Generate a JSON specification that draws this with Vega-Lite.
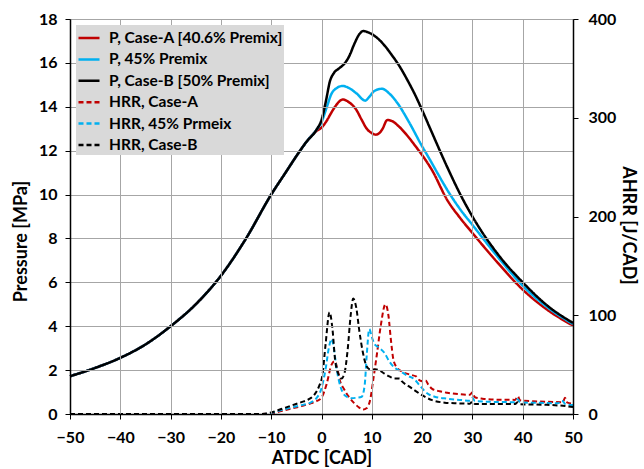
{
  "$schema": "https://vega.github.io/schema/vega-lite/v6.json",
  "width": 503,
  "height": 395,
  "autosize": "none",
  "padding": {"left": 70, "top": 19, "right": 71, "bottom": 55},
  "background": "white",
  "config": {
    "font": "Lato",
    "view": {"stroke": "#808080", "strokeWidth": 1},
    "axis": {
      "labelFont": "Lato", "labelFontWeight": "bold", "labelFontSize": 16, "labelColor": "#000000", "labelFlush": false,
      "titleFont": "Lato", "titleFontWeight": "bold", "titleFontSize": 18, "titleColor": "#000000",
      "domainColor": "#000000", "domainWidth": 1.5, "tickColor": "#000000", "tickSize": 5, "tickWidth": 1,
      "grid": true, "gridColor": "#a6a6a6", "gridWidth": 1, "gridOpacity": 1
    },
    "axisRight": {"grid": false},
    "legend": {
      "orient": "none", "legendX": 6, "legendY": 6, "title": null, "zindex": 2,
      "fillColor": "#d9d9d9", "padding": 1, "rowPadding": 0.4,
      "labelFont": "Lato", "labelFontWeight": "bold", "labelFontSize": 15.5, "labelColor": "#000000",
      "labelOffset": 8, "labelLimit": 400,
      "symbolType": "stroke", "symbolSize": 441, "symbolStrokeWidth": 2.5
    }
  },
  "data": {"values": [
    {"s":"P, Case-A [40.6% Premix]","x":-50,"v":1.72},{"s":"P, Case-A [40.6% Premix]","x":-45,"v":2.1},{"s":"P, Case-A [40.6% Premix]","x":-40,"v":2.56},{"s":"P, Case-A [40.6% Premix]","x":-35,"v":3.17},{"s":"P, Case-A [40.6% Premix]","x":-30,"v":4.0},{"s":"P, Case-A [40.6% Premix]","x":-25,"v":5.0},{"s":"P, Case-A [40.6% Premix]","x":-20,"v":6.3},{"s":"P, Case-A [40.6% Premix]","x":-15,"v":8.0},{"s":"P, Case-A [40.6% Premix]","x":-10,"v":10.0},{"s":"P, Case-A [40.6% Premix]","x":-7,"v":11.05},{"s":"P, Case-A [40.6% Premix]","x":-5,"v":11.75},{"s":"P, Case-A [40.6% Premix]","x":-3,"v":12.4},{"s":"P, Case-A [40.6% Premix]","x":-1,"v":12.9},{"s":"P, Case-A [40.6% Premix]","x":0,"v":13.05},{"s":"P, Case-A [40.6% Premix]","x":1,"v":13.35},{"s":"P, Case-A [40.6% Premix]","x":2,"v":13.75},{"s":"P, Case-A [40.6% Premix]","x":3,"v":14.1},{"s":"P, Case-A [40.6% Premix]","x":4.2,"v":14.33},{"s":"P, Case-A [40.6% Premix]","x":5.5,"v":14.2},{"s":"P, Case-A [40.6% Premix]","x":6.9,"v":13.87},{"s":"P, Case-A [40.6% Premix]","x":8,"v":13.4},{"s":"P, Case-A [40.6% Premix]","x":9,"v":13.0},{"s":"P, Case-A [40.6% Premix]","x":10,"v":12.8},{"s":"P, Case-A [40.6% Premix]","x":10.8,"v":12.73},{"s":"P, Case-A [40.6% Premix]","x":11.5,"v":12.8},{"s":"P, Case-A [40.6% Premix]","x":12.1,"v":12.98},{"s":"P, Case-A [40.6% Premix]","x":13.1,"v":13.4},{"s":"P, Case-A [40.6% Premix]","x":14,"v":13.35},{"s":"P, Case-A [40.6% Premix]","x":15.4,"v":13.1},{"s":"P, Case-A [40.6% Premix]","x":17,"v":12.7},{"s":"P, Case-A [40.6% Premix]","x":18.7,"v":12.2},{"s":"P, Case-A [40.6% Premix]","x":20,"v":11.8},{"s":"P, Case-A [40.6% Premix]","x":22,"v":11.1},{"s":"P, Case-A [40.6% Premix]","x":25,"v":9.75},{"s":"P, Case-A [40.6% Premix]","x":27.5,"v":8.95},{"s":"P, Case-A [40.6% Premix]","x":30,"v":8.25},{"s":"P, Case-A [40.6% Premix]","x":35,"v":6.9},{"s":"P, Case-A [40.6% Premix]","x":40,"v":5.67},{"s":"P, Case-A [40.6% Premix]","x":45,"v":4.73},{"s":"P, Case-A [40.6% Premix]","x":50,"v":4.03},

    {"s":"P, 45% Premix","x":-50,"v":1.72},{"s":"P, 45% Premix","x":-45,"v":2.1},{"s":"P, 45% Premix","x":-40,"v":2.56},{"s":"P, 45% Premix","x":-35,"v":3.17},{"s":"P, 45% Premix","x":-30,"v":4.0},{"s":"P, 45% Premix","x":-25,"v":5.0},{"s":"P, 45% Premix","x":-20,"v":6.3},{"s":"P, 45% Premix","x":-15,"v":8.0},{"s":"P, 45% Premix","x":-10,"v":10.0},{"s":"P, 45% Premix","x":-7,"v":11.05},{"s":"P, 45% Premix","x":-5,"v":11.75},{"s":"P, 45% Premix","x":-3,"v":12.4},{"s":"P, 45% Premix","x":-1,"v":12.95},{"s":"P, 45% Premix","x":0,"v":13.3},{"s":"P, 45% Premix","x":1,"v":13.95},{"s":"P, 45% Premix","x":2,"v":14.6},{"s":"P, 45% Premix","x":3,"v":14.85},{"s":"P, 45% Premix","x":4.2,"v":14.95},{"s":"P, 45% Premix","x":5.5,"v":14.85},{"s":"P, 45% Premix","x":7,"v":14.6},{"s":"P, 45% Premix","x":8.7,"v":14.28},{"s":"P, 45% Premix","x":9.5,"v":14.45},{"s":"P, 45% Premix","x":10.5,"v":14.72},{"s":"P, 45% Premix","x":12,"v":14.82},{"s":"P, 45% Premix","x":13.5,"v":14.6},{"s":"P, 45% Premix","x":15,"v":14.2},{"s":"P, 45% Premix","x":17.4,"v":13.3},{"s":"P, 45% Premix","x":20,"v":12.2},{"s":"P, 45% Premix","x":21.4,"v":11.65},{"s":"P, 45% Premix","x":23,"v":11.0},{"s":"P, 45% Premix","x":25.3,"v":10.1},{"s":"P, 45% Premix","x":27.5,"v":9.35},{"s":"P, 45% Premix","x":30,"v":8.62},{"s":"P, 45% Premix","x":35,"v":7.17},{"s":"P, 45% Premix","x":40,"v":5.85},{"s":"P, 45% Premix","x":45,"v":4.85},{"s":"P, 45% Premix","x":50,"v":4.1},

    {"s":"P, Case-B [50% Premix]","x":-50,"v":1.72},{"s":"P, Case-B [50% Premix]","x":-45,"v":2.1},{"s":"P, Case-B [50% Premix]","x":-40,"v":2.56},{"s":"P, Case-B [50% Premix]","x":-35,"v":3.17},{"s":"P, Case-B [50% Premix]","x":-30,"v":4.0},{"s":"P, Case-B [50% Premix]","x":-25,"v":5.0},{"s":"P, Case-B [50% Premix]","x":-20,"v":6.3},{"s":"P, Case-B [50% Premix]","x":-15,"v":8.0},{"s":"P, Case-B [50% Premix]","x":-10,"v":10.0},{"s":"P, Case-B [50% Premix]","x":-7,"v":11.05},{"s":"P, Case-B [50% Premix]","x":-5,"v":11.75},{"s":"P, Case-B [50% Premix]","x":-3,"v":12.4},{"s":"P, Case-B [50% Premix]","x":-1,"v":12.95},{"s":"P, Case-B [50% Premix]","x":0,"v":13.4},{"s":"P, Case-B [50% Premix]","x":1,"v":14.4},{"s":"P, Case-B [50% Premix]","x":1.6,"v":15.1},{"s":"P, Case-B [50% Premix]","x":2.5,"v":15.55},{"s":"P, Case-B [50% Premix]","x":3.5,"v":15.75},{"s":"P, Case-B [50% Premix]","x":4.5,"v":15.95},{"s":"P, Case-B [50% Premix]","x":5.5,"v":16.3},{"s":"P, Case-B [50% Premix]","x":6.5,"v":16.85},{"s":"P, Case-B [50% Premix]","x":7.5,"v":17.3},{"s":"P, Case-B [50% Premix]","x":8.3,"v":17.45},{"s":"P, Case-B [50% Premix]","x":9.5,"v":17.37},{"s":"P, Case-B [50% Premix]","x":11,"v":17.15},{"s":"P, Case-B [50% Premix]","x":12.5,"v":16.8},{"s":"P, Case-B [50% Premix]","x":14,"v":16.35},{"s":"P, Case-B [50% Premix]","x":15.5,"v":15.85},{"s":"P, Case-B [50% Premix]","x":17,"v":15.25},{"s":"P, Case-B [50% Premix]","x":18.7,"v":14.5},{"s":"P, Case-B [50% Premix]","x":20,"v":13.85},{"s":"P, Case-B [50% Premix]","x":22,"v":12.8},{"s":"P, Case-B [50% Premix]","x":25,"v":11.25},{"s":"P, Case-B [50% Premix]","x":27.5,"v":10.05},{"s":"P, Case-B [50% Premix]","x":30,"v":9.0},{"s":"P, Case-B [50% Premix]","x":35,"v":7.3},{"s":"P, Case-B [50% Premix]","x":40,"v":6.0},{"s":"P, Case-B [50% Premix]","x":45,"v":4.92},{"s":"P, Case-B [50% Premix]","x":50,"v":4.15},

    {"s":"HRR, Case-A","x":-50,"v":0},{"s":"HRR, Case-A","x":-12,"v":0},{"s":"HRR, Case-A","x":-10,"v":0.5},{"s":"HRR, Case-A","x":-8,"v":3},{"s":"HRR, Case-A","x":-6,"v":5.5},{"s":"HRR, Case-A","x":-4,"v":8},{"s":"HRR, Case-A","x":-2,"v":11},{"s":"HRR, Case-A","x":-1,"v":13},{"s":"HRR, Case-A","x":0,"v":16.5},{"s":"HRR, Case-A","x":1,"v":30},{"s":"HRR, Case-A","x":2,"v":50},{"s":"HRR, Case-A","x":2.6,"v":53.5},{"s":"HRR, Case-A","x":3.2,"v":45},{"s":"HRR, Case-A","x":3.6,"v":35},{"s":"HRR, Case-A","x":4.5,"v":25},{"s":"HRR, Case-A","x":5.5,"v":17},{"s":"HRR, Case-A","x":6.5,"v":11},{"s":"HRR, Case-A","x":7.5,"v":6.5},{"s":"HRR, Case-A","x":8.3,"v":4.5},{"s":"HRR, Case-A","x":9,"v":6},{"s":"HRR, Case-A","x":9.7,"v":15},{"s":"HRR, Case-A","x":10.3,"v":35},{"s":"HRR, Case-A","x":11,"v":60},{"s":"HRR, Case-A","x":11.8,"v":90},{"s":"HRR, Case-A","x":12.7,"v":111},{"s":"HRR, Case-A","x":13.3,"v":100},{"s":"HRR, Case-A","x":13.8,"v":75},{"s":"HRR, Case-A","x":14.3,"v":55},{"s":"HRR, Case-A","x":15,"v":47},{"s":"HRR, Case-A","x":16,"v":43},{"s":"HRR, Case-A","x":17.5,"v":40},{"s":"HRR, Case-A","x":18.8,"v":38},{"s":"HRR, Case-A","x":19.5,"v":34},{"s":"HRR, Case-A","x":20.3,"v":33},{"s":"HRR, Case-A","x":20.7,"v":34},{"s":"HRR, Case-A","x":21.2,"v":30},{"s":"HRR, Case-A","x":22,"v":25.5},{"s":"HRR, Case-A","x":23.5,"v":23},{"s":"HRR, Case-A","x":25,"v":21.5},{"s":"HRR, Case-A","x":27.5,"v":20},{"s":"HRR, Case-A","x":29.5,"v":19.5},{"s":"HRR, Case-A","x":30,"v":22},{"s":"HRR, Case-A","x":30.5,"v":17},{"s":"HRR, Case-A","x":32,"v":15.5},{"s":"HRR, Case-A","x":35,"v":14.5},{"s":"HRR, Case-A","x":38.5,"v":14.3},{"s":"HRR, Case-A","x":39,"v":18},{"s":"HRR, Case-A","x":39.5,"v":13.8},{"s":"HRR, Case-A","x":42,"v":13},{"s":"HRR, Case-A","x":45,"v":12.3},{"s":"HRR, Case-A","x":48,"v":12},{"s":"HRR, Case-A","x":48.4,"v":16.5},{"s":"HRR, Case-A","x":48.9,"v":11.5},{"s":"HRR, Case-A","x":50,"v":10.5},

    {"s":"HRR, 45% Prmeix","x":-50,"v":0},{"s":"HRR, 45% Prmeix","x":-12,"v":0},{"s":"HRR, 45% Prmeix","x":-10,"v":1},{"s":"HRR, 45% Prmeix","x":-8,"v":4},{"s":"HRR, 45% Prmeix","x":-6,"v":6.5},{"s":"HRR, 45% Prmeix","x":-4,"v":9},{"s":"HRR, 45% Prmeix","x":-2,"v":12},{"s":"HRR, 45% Prmeix","x":-1,"v":16},{"s":"HRR, 45% Prmeix","x":0,"v":26},{"s":"HRR, 45% Prmeix","x":0.8,"v":45},{"s":"HRR, 45% Prmeix","x":1.5,"v":68},{"s":"HRR, 45% Prmeix","x":2,"v":76},{"s":"HRR, 45% Prmeix","x":2.5,"v":65},{"s":"HRR, 45% Prmeix","x":3,"v":46},{"s":"HRR, 45% Prmeix","x":3.5,"v":33},{"s":"HRR, 45% Prmeix","x":4.2,"v":22},{"s":"HRR, 45% Prmeix","x":5,"v":17.5},{"s":"HRR, 45% Prmeix","x":6,"v":16},{"s":"HRR, 45% Prmeix","x":7,"v":16.5},{"s":"HRR, 45% Prmeix","x":8,"v":17.5},{"s":"HRR, 45% Prmeix","x":8.6,"v":30},{"s":"HRR, 45% Prmeix","x":9,"v":60},{"s":"HRR, 45% Prmeix","x":9.5,"v":86},{"s":"HRR, 45% Prmeix","x":10,"v":78},{"s":"HRR, 45% Prmeix","x":10.5,"v":71},{"s":"HRR, 45% Prmeix","x":11.5,"v":67},{"s":"HRR, 45% Prmeix","x":12.5,"v":62},{"s":"HRR, 45% Prmeix","x":13.5,"v":53},{"s":"HRR, 45% Prmeix","x":14.5,"v":47},{"s":"HRR, 45% Prmeix","x":15.5,"v":44},{"s":"HRR, 45% Prmeix","x":17,"v":39},{"s":"HRR, 45% Prmeix","x":18.5,"v":35},{"s":"HRR, 45% Prmeix","x":19.5,"v":29},{"s":"HRR, 45% Prmeix","x":21,"v":21},{"s":"HRR, 45% Prmeix","x":22.5,"v":17.5},{"s":"HRR, 45% Prmeix","x":25,"v":15.5},{"s":"HRR, 45% Prmeix","x":27.5,"v":14.3},{"s":"HRR, 45% Prmeix","x":29.5,"v":13.5},{"s":"HRR, 45% Prmeix","x":30,"v":16.5},{"s":"HRR, 45% Prmeix","x":30.5,"v":13},{"s":"HRR, 45% Prmeix","x":34,"v":12.3},{"s":"HRR, 45% Prmeix","x":38.5,"v":12},{"s":"HRR, 45% Prmeix","x":39,"v":15},{"s":"HRR, 45% Prmeix","x":39.5,"v":11.8},{"s":"HRR, 45% Prmeix","x":43,"v":11.3},{"s":"HRR, 45% Prmeix","x":47,"v":10.8},{"s":"HRR, 45% Prmeix","x":47.8,"v":13.5},{"s":"HRR, 45% Prmeix","x":48.5,"v":10},{"s":"HRR, 45% Prmeix","x":50,"v":9},

    {"s":"HRR, Case-B","x":-50,"v":0},{"s":"HRR, Case-B","x":-12,"v":0},{"s":"HRR, Case-B","x":-10,"v":1.5},{"s":"HRR, Case-B","x":-8,"v":5},{"s":"HRR, Case-B","x":-6,"v":8.5},{"s":"HRR, Case-B","x":-4,"v":12},{"s":"HRR, Case-B","x":-2.5,"v":15},{"s":"HRR, Case-B","x":-1.5,"v":19},{"s":"HRR, Case-B","x":-0.5,"v":28},{"s":"HRR, Case-B","x":0.2,"v":40},{"s":"HRR, Case-B","x":0.8,"v":70},{"s":"HRR, Case-B","x":1.6,"v":103},{"s":"HRR, Case-B","x":2.2,"v":85},{"s":"HRR, Case-B","x":2.7,"v":55},{"s":"HRR, Case-B","x":3.4,"v":40},{"s":"HRR, Case-B","x":4.0,"v":36},{"s":"HRR, Case-B","x":4.6,"v":42},{"s":"HRR, Case-B","x":5.2,"v":65},{"s":"HRR, Case-B","x":5.8,"v":100},{"s":"HRR, Case-B","x":6.3,"v":117},{"s":"HRR, Case-B","x":6.9,"v":108},{"s":"HRR, Case-B","x":7.5,"v":85},{"s":"HRR, Case-B","x":8.2,"v":63},{"s":"HRR, Case-B","x":9,"v":48},{"s":"HRR, Case-B","x":9.7,"v":45},{"s":"HRR, Case-B","x":11,"v":45},{"s":"HRR, Case-B","x":12.5,"v":41},{"s":"HRR, Case-B","x":13.5,"v":38},{"s":"HRR, Case-B","x":14.5,"v":36},{"s":"HRR, Case-B","x":15.5,"v":36},{"s":"HRR, Case-B","x":16,"v":33},{"s":"HRR, Case-B","x":17.4,"v":28},{"s":"HRR, Case-B","x":18.5,"v":24},{"s":"HRR, Case-B","x":20,"v":19},{"s":"HRR, Case-B","x":22,"v":14},{"s":"HRR, Case-B","x":24.5,"v":11.5},{"s":"HRR, Case-B","x":27,"v":10.8},{"s":"HRR, Case-B","x":29.5,"v":10.5},{"s":"HRR, Case-B","x":30,"v":12.5},{"s":"HRR, Case-B","x":30.5,"v":10.2},{"s":"HRR, Case-B","x":34.5,"v":10.2},{"s":"HRR, Case-B","x":38.5,"v":10.2},{"s":"HRR, Case-B","x":39,"v":12},{"s":"HRR, Case-B","x":39.5,"v":9.8},{"s":"HRR, Case-B","x":44.5,"v":9.3},{"s":"HRR, Case-B","x":48.5,"v":8},{"s":"HRR, Case-B","x":50,"v":7}
  ]},
  "layer": [
    {
      "transform": [{"filter": "indexof(datum.s, 'P,') === 0"}],
      "mark": {"type": "line", "strokeWidth": 2.5, "interpolate": "monotone"},
      "encoding": {
        "x": {"field": "x", "type": "quantitative", "title": "ATDC [CAD]",
          "scale": {"domain": [-50, 50], "nice": false},
          "axis": {"values": [-50,-40,-30,-20,-10,0,10,20,30,40,50], "labelPadding": 10, "titlePadding": 4, "grid": true, "zindex": 1}},
        "y": {"field": "v", "type": "quantitative", "title": "Pressure [MPa]",
          "scale": {"domain": [0, 18], "nice": false},
          "axis": {"orient": "left", "values": [0,2,4,6,8,10,12,14,16,18], "labelPadding": 8, "titlePadding": 8, "titleY": 222, "grid": true, "zindex": 1}},
        "color": {"field": "s", "type": "nominal", "legend": {"title": null},
          "scale": {"domain": ["P, Case-A [40.6% Premix]","P, 45% Premix","P, Case-B [50% Premix]","HRR, Case-A","HRR, 45% Prmeix","HRR, Case-B"],
            "range": ["#c00000","#00b0f0","#000000","#c00000","#00b0f0","#000000"]}},
        "strokeDash": {"field": "s", "type": "nominal", "legend": {"title": null},
          "scale": {"domain": ["P, Case-A [40.6% Premix]","P, 45% Premix","P, Case-B [50% Premix]","HRR, Case-A","HRR, 45% Prmeix","HRR, Case-B"],
            "range": [[1,0],[1,0],[1,0],[5,3],[5,3],[5,3]]}}
      }
    },
    {
      "transform": [{"filter": "indexof(datum.s, 'HRR') === 0"}],
      "mark": {"type": "line", "strokeWidth": 2, "interpolate": "monotone"},
      "encoding": {
        "x": {"field": "x", "type": "quantitative"},
        "y": {"field": "v", "type": "quantitative", "title": "AHRR [J/CAD]",
          "scale": {"domain": [0, 400], "nice": false},
          "axis": {"orient": "right", "values": [0,100,200,300,400], "labelPadding": 10, "titlePadding": 3, "titleY": 206, "grid": false, "zindex": 1}},
        "color": {"field": "s", "type": "nominal"},
        "strokeDash": {"field": "s", "type": "nominal"}
      }
    }
  ],
  "resolve": {"scale": {"y": "independent"}}
}
